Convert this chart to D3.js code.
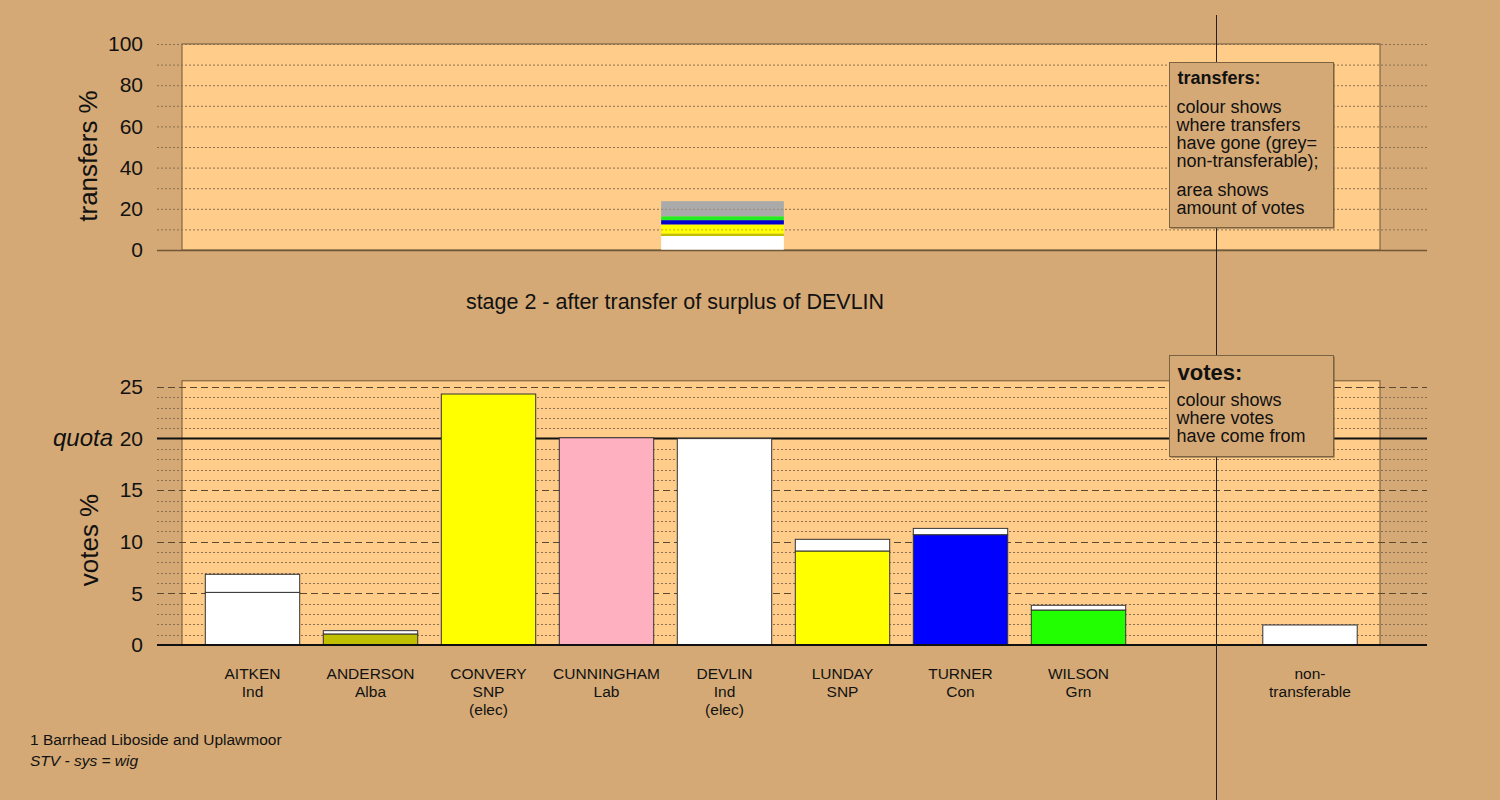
<!DOCTYPE html>
<html><head><meta charset="utf-8">
<script src="https://cdn.jsdelivr.net/npm/d3@7"></script>
<style>
html,body{margin:0;padding:0;background:#d4a975;}
svg{display:block;font-family:"Liberation Sans",Arial,sans-serif;}
</style></head>
<body>
<svg id="chart" width="1500" height="800"></svg>
<script>
// ---- data ----
const candidates = ["AITKEN","ANDERSON","CONVERY","CUNNINGHAM","DEVLIN","LUNDAY","TURNER","WILSON"];
const parties = ["Ind","Alba","SNP","Lab","Ind","SNP","Con","Grn"];
const elected = [false,false,true,false,true,false,false,false];
const partyColours = ["#ffffff","#c0c000","#ffff00","#ffb0c0","#ffffff","#ffff00","#0000ff","#22ff00"];
const baseVotes = [5.1, 1.07, 24.32, 20.08, 20.0, 9.11, 10.69, 3.39];
const transferVotes = [1.75, 0.32, 0, 0, 0, 1.13, 0.61, 0.46];
const nonTransferable = 1.94;
const quota = 20;
// top panel: transfers of DEVLIN's surplus, % (stacked bottom to top)
const transferLabels = ["AITKEN","ANDERSON","LUNDAY","TURNER","WILSON","non-transferable"];
const transferPct = [6.8, 1.2, 4.4, 2.1, 1.9, 7.3];
const transferColours = ["#ffffff","#c0c000","#ffff00","#0000cc","#22ee22","#aaaaaa"];
const transferFrom = "DEVLIN";
const topTicks = [0,20,40,60,80,100];
const bottomTicks = [0,5,10,15,20,25];
const title = "stage 2 - after transfer of surplus of DEVLIN";
const footer1 = "1 Barrhead Liboside and Uplawmoor";
const footer2 = "STV - sys = wig";

// ---- layout ----
const svg = d3.select("#chart");
const bg = "#d4a975", panelFill = "#ffcc8a", panelStroke = "#6e5838";
const gridL = 157, gridR = 1427, panelL = 182, panelR = 1380;
const slots = [...candidates, "", "non-transferable"];
const x = d3.scaleBand().domain(slots).range([193.5, 1373.5]).paddingInner(0.2).paddingOuter(0.1);
const yTop = d3.scaleLinear().domain([0,100]).range([250,44]);
const yBot = d3.scaleLinear().domain([0,25]).range([645,387]);
const botMax = 25.6;
const dividerX = 1216;

svg.append("rect").attr("width",1500).attr("height",800).attr("fill",bg);

// ---- top panel ----
svg.append("rect").attr("x",panelL).attr("y",yTop(100)).attr("width",panelR-panelL)
  .attr("height",yTop(0)-yTop(100)).attr("fill",panelFill).attr("stroke",panelStroke).attr("stroke-width",1);
d3.range(0,101,10).forEach(v=>{
  svg.append("line").attr("x1",gridL).attr("x2",gridR).attr("y1",yTop(v)+0.5).attr("y2",yTop(v)+0.5)
    .attr("stroke","#8a7050").attr("stroke-width",1).attr("stroke-dasharray","2,2");
});
// stacked transfer bar
let cum = 0;
const tw = x.bandwidth()*1.3;
const tcx = x(transferFrom) + x.bandwidth()/2 - 2;
transferPct.forEach((v,i)=>{
  svg.append("rect").attr("x",tcx - tw/2).attr("width",tw)
    .attr("y",yTop(cum+v)).attr("height",yTop(cum)-yTop(cum+v)).attr("fill",transferColours[i]);
  cum += v;
});
d3.range(10,101,10).forEach(v=>{
  if (v < cum) svg.append("line").attr("x1",tcx-tw/2).attr("x2",tcx+tw/2).attr("y1",yTop(v)+0.5).attr("y2",yTop(v)+0.5)
    .attr("stroke","#8a7050").attr("stroke-width",1).attr("stroke-dasharray","2,2").attr("opacity",0.6);
});
svg.append("line").attr("x1",gridL).attr("x2",gridR).attr("y1",yTop(0)+0.5).attr("y2",yTop(0)+0.5)
  .attr("stroke","#6e5838").attr("stroke-width",1.5);

const axTop = svg.append("g").attr("transform",`translate(${143},0)`)
  .call(d3.axisLeft(yTop).tickValues(topTicks).tickSize(0).tickPadding(0));
axTop.select(".domain").remove();
axTop.selectAll("text").attr("font-size",21).attr("fill","#111").attr("font-family","Liberation Sans, Arial, sans-serif");

svg.append("text").attr("transform","translate(97,156) rotate(-90)").attr("text-anchor","middle")
  .attr("font-size",26).attr("fill","#111").text("transfers %");

svg.append("text").attr("x",675).attr("y",309).attr("text-anchor","middle").attr("font-size",21.5)
  .attr("fill","#111").text(title);

// ---- bottom panel ----
svg.append("rect").attr("x",panelL).attr("y",yBot(botMax)).attr("width",panelR-panelL)
  .attr("height",yBot(0)-yBot(botMax)).attr("fill",panelFill).attr("stroke",panelStroke).attr("stroke-width",1);
d3.range(1,26).forEach(v=>{
  if (v===quota) return;
  const major = v%5===0;
  svg.append("line").attr("x1",gridL).attr("x2",gridR).attr("y1",Math.round(yBot(v))+0.5).attr("y2",Math.round(yBot(v))+0.5)
    .attr("stroke",major?"#5a4830":"#8a7050").attr("stroke-width",1)
    .attr("stroke-dasharray",major?"7,4":"2,2");
});
svg.append("line").attr("x1",gridL).attr("x2",gridR).attr("y1",yBot(quota)).attr("y2",yBot(quota))
  .attr("stroke","#111").attr("stroke-width",2);

// bars
candidates.forEach((c,i)=>{
  const bx = x(c), bw = x.bandwidth();
  svg.append("rect").attr("x",bx).attr("width",bw).attr("y",yBot(baseVotes[i]))
    .attr("height",yBot(0)-yBot(baseVotes[i])).attr("fill",partyColours[i]).attr("stroke","#333").attr("stroke-width",1);
  if (transferVotes[i]>0){
    svg.append("rect").attr("x",bx).attr("width",bw).attr("y",yBot(baseVotes[i]+transferVotes[i]))
      .attr("height",yBot(baseVotes[i])-yBot(baseVotes[i]+transferVotes[i])).attr("fill","#ffffff")
      .attr("stroke","#333").attr("stroke-width",1);
  }
});
svg.append("rect").attr("x",x("non-transferable")-4.5).attr("width",x.bandwidth()).attr("y",yBot(nonTransferable))
  .attr("height",yBot(0)-yBot(nonTransferable)).attr("fill","#ffffff").attr("stroke","#333").attr("stroke-width",1);

svg.append("line").attr("x1",gridL).attr("x2",gridR).attr("y1",yBot(0)).attr("y2",yBot(0))
  .attr("stroke","#111").attr("stroke-width",2);

const axBot = svg.append("g").attr("transform",`translate(${143},0)`)
  .call(d3.axisLeft(yBot).tickValues(bottomTicks).tickSize(0).tickPadding(0));
axBot.select(".domain").remove();
axBot.selectAll("text").attr("font-size",21).attr("fill","#111").attr("font-family","Liberation Sans, Arial, sans-serif");
svg.append("text").attr("x",113).attr("y",yBot(quota)).attr("dy","0.32em").attr("text-anchor","end")
  .attr("font-size",24).attr("font-style","italic").attr("fill","#111").text("quota");

svg.append("text").attr("transform","translate(98,540) rotate(-90)").attr("text-anchor","middle")
  .attr("font-size",26).attr("fill","#111").text("votes %");

// category labels
candidates.forEach((c,i)=>{
  const cx = x(c)+x.bandwidth()/2;
  const t = svg.append("text").attr("text-anchor","middle").attr("font-size",15.5).attr("fill","#111");
  const lines = [c, parties[i]].concat(elected[i]?["(elec)"]:[]);
  lines.forEach((l,j)=>t.append("tspan").attr("x",cx).attr("y",679+j*18).text(l));
});
{
  const cx = x("non-transferable")+x.bandwidth()/2-4.5;
  const t = svg.append("text").attr("text-anchor","middle").attr("font-size",15.5).attr("fill","#111");
  ["non-","transferable"].forEach((l,j)=>t.append("tspan").attr("x",cx).attr("y",679+j*18).text(l));
}

// divider
svg.append("line").attr("x1",dividerX+0.5).attr("x2",dividerX+0.5).attr("y1",15).attr("y2",800)
  .attr("stroke","#222").attr("stroke-width",1);

// legend boxes
function legendBox(bx,by,bw,bh,head,headSize,headY,lines){
  svg.append("rect").attr("x",bx+1).attr("y",by+1).attr("width",bw).attr("height",bh).attr("fill","#6e5838");
  svg.append("rect").attr("x",bx).attr("y",by).attr("width",bw).attr("height",bh).attr("fill",bg)
    .attr("stroke","#7a6242").attr("stroke-width",1);
  svg.append("text").attr("x",bx+8).attr("y",headY).attr("font-size",headSize).attr("font-weight","bold")
    .attr("fill","#111").text(head);
  lines.forEach(([txt,yy])=>svg.append("text").attr("x",bx+7).attr("y",yy).attr("font-size",18).attr("fill","#111").text(txt));
}
legendBox(1169.5,62.5,164,165,"transfers:",18,84,
  [["colour shows",113],["where transfers",131],["have gone (grey=",149],["non-transferable);",167],["area shows",196],["amount of votes",214]]);
legendBox(1169.5,355.5,164,101,"votes:",22,380,
  [["colour shows",406],["where votes",424],["have come from",442]]);

// footer
svg.append("text").attr("x",30).attr("y",745).attr("font-size",15.5).attr("fill","#111").text(footer1);
svg.append("text").attr("x",30).attr("y",766).attr("font-size",15.5).attr("font-style","italic").attr("fill","#111").text(footer2);
</script>
</body></html>
